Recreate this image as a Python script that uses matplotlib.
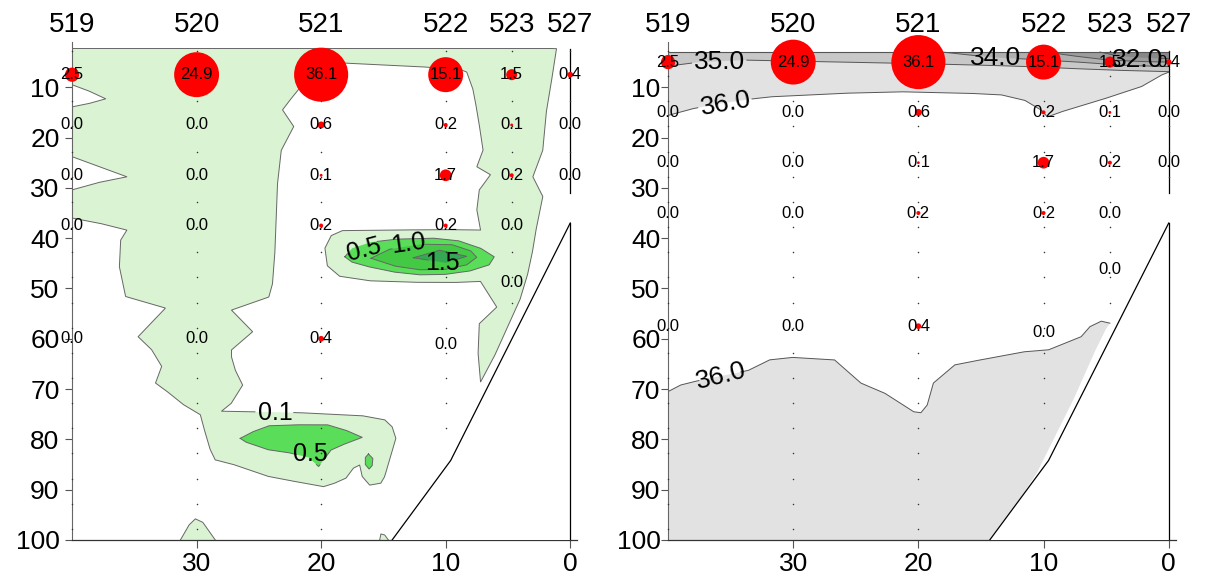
import numpy as np
import matplotlib.pyplot as plt

plt.rcParams['font.family'] = ['Liberation Sans', 'DejaVu Sans']

# stations along the section (distance from the coast, km)
stations = ['519', '520', '521', '522', '523', '527']
station_km = [40, 30, 20, 10, 4.7, 0]
station_bottom = [100, 100, 100, 80, 55, 31]
grid_depth = [2.8, 7.8, 12.8, 17.8, 22.8, 27.8, 32.8, 37.8, 42.8, 47.8,
              52.8, 57.8, 62.8, 67.8, 72.8, 77.8, 82.8, 87.8, 92.8, 97.8]

# bottle depths (m) and cell counts at each station
sample_depth = [
    [7.5, 17.5, 27.5, 37.5, 60.0],
    [7.5, 17.5, 27.5, 37.5, 60.0],
    [7.5, 17.5, 27.5, 37.5, 60.0],
    [7.5, 17.5, 27.5, 37.5, 61.2],
    [7.5, 17.5, 27.5, 37.5, 48.8],
    [7.5, 17.5, 27.5],
]
sample_value = [
    [2.5, 0.0, 0.0, 0.0, 0.0],
    [24.9, 0.0, 0.0, 0.0, 0.0],
    [36.1, 0.6, 0.1, 0.2, 0.4],
    [15.1, 0.2, 1.7, 0.2, 0.0],
    [1.5, 0.1, 0.2, 0.0, 0.0],
    [0.4, 0.0, 0.0],
]

# sea floor
bottom_km = [0, 9.6, 14.3]
bottom_depth = [37, 84.2, 100]

# ---- chlorophyll isolines (left panel) ----
chl01_km = [40, 1.1, 1.4, 1.9, 2.2, 3.0, 2.2, 2.7, 3.0, 3.4, 4.0, 5.0, 6.0, 7.2,
            7.4, 7.3, 5.9, 7.2, 9.0, 12.0, 16.0, 18.5, 19.5, 19.7, 19.2, 18.3,
            15.0, 10.0, 7.2, 7.5, 7.3, 6.4, 7.5, 7.0, 7.2, 7.5, 7.8, 8.3, 8.7,
            11.5, 18.1, 21.0, 22.3, 23.1, 22.2, 23.2, 23.5, 23.7, 23.9, 24.2,
            27.2, 25.5, 27.2, 27.2, 26.9, 26.3, 27.2, 28.0, 21.7, 16.7, 14.9,
            14.3, 14.0, 14.6, 14.9, 15.2, 16.1, 16.7, 16.9, 17.4, 18.0, 18.9,
            19.8, 21.4, 24.2, 26.9, 28.5, 28.9, 29.3, 29.7, 31.0, 32.2, 33.3,
            32.8, 33.6, 34.7, 32.5, 35.7, 36.2, 36.1, 35.6, 37.5, 40]
chl01_depth = [2.3, 2.3, 7.2, 14.5, 22.5, 27.8, 31.7, 37.7, 42.3, 47.0, 52.0, 57.5,
               63.0, 68.6, 63.0, 57.0, 53.7, 48.6, 48.8, 48.8, 48.5, 47.6, 45.5,
               42.0, 39.5, 38.5, 38.4, 38.3, 38.4, 34.4, 30.4, 27.4, 25.8, 22.5,
               19.1, 14.5, 10.5, 7.0, 6.6, 6.0, 5.2, 8.0, 11.9, 14.5, 17.8, 22.5,
               29.0, 42.3, 49.0, 51.7, 54.3, 58.6, 62.2, 63.6, 66.2, 69.2, 72.8,
               74.4, 74.7, 75.3, 76.1, 77.5, 79.8, 84.8, 87.4, 88.7, 89.1, 87.4,
               85.1, 85.7, 87.7, 88.7, 89.4, 88.7, 87.4, 85.1, 84.1, 82.1, 78.8,
               75.1, 73.2, 70.8, 68.8, 65.5, 62.2, 59.6, 53.9, 51.6, 45.7, 40.4,
               38.4, 37.2, 36.0]

notch_a_km = [40, 38.6, 37.3, 38.6, 40]
notch_a_depth = [9.5, 10.8, 12.3, 13.2, 13.9]
notch_b_km = [40, 37.8, 35.6, 37.8, 40]
notch_b_depth = [23.8, 25.8, 27.8, 28.9, 30.4]

blob05_km = [18.1, 17.5, 16.0, 14.0, 11.0, 9.0, 7.2, 6.1, 6.5, 8.0, 10.0, 12.0, 14.0, 16.0, 17.5]
blob05_depth = [43.7, 42.0, 40.8, 40.2, 40.0, 40.5, 42.0, 43.7, 45.3, 46.5, 47.2, 47.3, 46.8, 45.8, 44.8]
blob10_km = [16.0, 14.5, 12.0, 9.5, 8.0, 7.5, 8.3, 10.0, 12.0, 14.0]
blob10_depth = [44.0, 42.2, 41.2, 41.3, 42.5, 43.8, 45.3, 46.2, 46.3, 45.6]
blob15_km = [12.6, 10.5, 8.3, 10.0]
blob15_depth = [43.9, 42.4, 43.6, 44.9]

deep05_km = [26.5, 25.5, 24.2, 22.0, 19.5, 18.0, 16.7, 18.0, 19.2, 20.2, 21.0, 22.5, 24.2, 26.0]
deep05_depth = [79.8, 78.5, 77.3, 77.1, 77.1, 78.2, 79.6, 80.8, 82.1, 85.4, 83.6, 82.7, 82.1, 80.6]
spot05_km = [16.2, 15.85, 15.9, 16.15, 16.45, 16.45]
spot05_depth = [82.9, 83.8, 85.2, 85.9, 85.0, 83.6]
hump_km = [31.3, 30.6, 30.1, 29.5, 28.5]
hump_depth = [100, 97.0, 95.8, 96.5, 100]
loop_km = [15.3, 15.2, 14.9, 14.6]
loop_depth = [100, 98.8, 99.0, 100]

# ---- salinity isolines (right panel) ----
sal_top = 3.0
sal36_km = [40, 38.1, 36.0, 33.2, 31.8, 26.0, 21.4, 16.0, 13.4, 11.5, 10.2, 9.7,
            8.6, 5.4, 2.2, 0.6, 0]
sal36_depth = [15.6, 14.3, 13.3, 12.3, 11.9, 11.2, 10.9, 11.2, 11.5, 12.6, 14.5,
               15.9, 14.9, 12.5, 9.9, 7.6, 7.0]
sal35_km = [40, 37.5, 33.9, 31.8, 28.2, 24.0, 20.0, 15.0, 11.0, 8.5, 4.5, 0]
sal35_depth = [5.8, 5.0, 4.6, 4.7, 4.9, 5.1, 5.3, 5.6, 5.9, 6.2, 6.6, 6.9]
sal34_km = [18.1, 15.5, 13.8, 11.3, 8.5, 6.0, 4.2, 0]
sal34_depth = [3.0, 3.7, 4.1, 4.4, 4.8, 5.2, 5.6, 5.9]
sal33_km = [9.8, 7.5, 4.8, 2.0, 0]
sal33_depth = [3.0, 3.8, 4.6, 4.9, 5.0]
sal32_km = [5.5, 4.2, 2.5, 0]
sal32_depth = [3.0, 3.7, 4.1, 4.3]
deep36_km = [40, 39.0, 37.9, 33.6, 31.9, 30.1, 26.7, 24.6, 22.7, 21.2, 20.4, 19.8,
             19.3, 18.8, 17.1, 15.9, 11.6, 9.6, 7.0, 6.3, 5.4, 4.7]
deep36_depth = [70.5, 69.2, 68.5, 66.3, 64.2, 63.7, 64.2, 68.8, 70.8, 73.2, 74.5,
                74.7, 73.2, 68.8, 65.2, 64.6, 62.6, 62.2, 59.6, 57.6, 56.5, 56.9]
deep_edge_km = [5.0, 5.8, 7.6, 9.4, 10.5, 14.0]
deep_edge_depth = [58.0, 62.0, 72.0, 81.0, 86.5, 100]


def isoline(ax, xs, ds, gap=None, closed=False, color='#666666', lw=0.7):
    xs = list(xs)
    ds = list(ds)
    if closed:
        xs = xs + xs[:1]
        ds = ds + ds[:1]
    xs = np.asarray(xs, float)
    ds = np.asarray(ds, float)
    if gap is not None:
        # break the line where its label sits
        n = len(xs)
        t = np.linspace(0, n - 1, 60 * n)
        xs = np.interp(t, np.arange(n), xs)
        ds = np.interp(t, np.arange(n), ds)
        x0, x1, d0, d1 = gap
        xs[(xs > x0) & (xs < x1) & (ds > d0) & (ds < d1)] = np.nan
    ax.plot(xs, ds, color=color, lw=lw, zorder=2)


def base(ax, shift, top, pad):
    ax.set_xlim(40, -0.55)
    ax.set_ylim(100, 1)
    for s in ['top', 'right']:
        ax.spines[s].set_visible(False)
    ax.spines['left'].set_color('#666666')
    ax.spines['bottom'].set_color('#333333')
    ax.spines['left'].set_linewidth(0.8)
    ax.spines['bottom'].set_linewidth(0.9)
    ax.set_xticks([30, 20, 10, 0])
    ax.set_yticks(range(10, 101, 10))
    ax.tick_params(axis='x', length=6, color='#555555', labelsize=19, pad=3)
    ax.tick_params(axis='y', length=5, color='#555555', labelsize=19, pad=pad)

    # sea floor
    ax.fill(bottom_km + [0], bottom_depth + [100], color='white', zorder=3)
    ax.plot(bottom_km, bottom_depth, color='black', lw=0.9, zorder=3)
    ax.plot([0, 0], [bottom_depth[0], 100], color='black', lw=0.9, zorder=3)
    ax.plot([0, 0], [top, station_bottom[-1]], color='black', lw=0.9, zorder=3)

    for sid, km, bot, dep, val in zip(stations, station_km, station_bottom,
                                      sample_depth, sample_value):
        dots = [g for g in grid_depth if g < bot]
        ax.scatter([km] * len(dots), dots, s=1.2, color='#333333', zorder=4,
                   linewidths=0, clip_on=False)
        dd = [d - shift for d in dep]
        ax.scatter([km] * len(val), dd, s=[42 * v for v in val], color='red',
                   linewidths=0, zorder=5, clip_on=False)
        for d, v in zip(dd, val):
            ax.text(km, d, f'{v:.1f}', ha='center', va='center', fontsize=12,
                    zorder=6)
        ax.annotate(sid, (km, 1), xytext=(0, 3), textcoords='offset points',
                    ha='center', va='bottom', fontsize=20, annotation_clip=False)


fig = plt.figure(figsize=(12.05, 5.79), dpi=100)
ax1 = fig.add_axes([0.0598, 0.0674, 0.4191, 0.8601])
ax2 = fig.add_axes([0.5544, 0.0674, 0.4212, 0.8601])

# left panel: chlorophyll
light_green = '#d9f3d3'
ax1.fill(chl01_km, chl01_depth, color=light_green, lw=0, zorder=1)
isoline(ax1, chl01_km, chl01_depth, gap=(22.2, 25.3, 72, 77.5), closed=True)
for xs, ds in [(notch_a_km, notch_a_depth), (notch_b_km, notch_b_depth)]:
    ax1.fill(xs, ds, color='white', lw=0, zorder=1.5)
    isoline(ax1, xs, ds)
ax1.fill(blob05_km, blob05_depth, color='#5ade5a', lw=0, zorder=1.6)
ax1.fill(blob10_km, blob10_depth, color='#44c944', lw=0, zorder=1.7)
ax1.fill(blob15_km, blob15_depth, color='#34a852', lw=0, zorder=1.8)
ax1.fill(deep05_km, deep05_depth, color='#5ade5a', lw=0, zorder=1.6)
ax1.fill(spot05_km, spot05_depth, color='#5ade5a', lw=0, zorder=1.6)
ax1.fill(hump_km, hump_depth, color=light_green, lw=0, zorder=1.6)
ax1.fill(loop_km, loop_depth, color=light_green, lw=0, zorder=1.6)
isoline(ax1, blob05_km, blob05_depth, gap=(15.5, 17.8, 40.3, 44.2), closed=True)
isoline(ax1, blob10_km, blob10_depth, gap=(11.8, 14.3, 39.5, 42.6), closed=True)
isoline(ax1, blob15_km, blob15_depth, gap=(9.2, 11.4, 43.8, 46.5), closed=True)
isoline(ax1, deep05_km, deep05_depth, gap=(19.8, 22.0, 81.0, 85.0), closed=True)
isoline(ax1, spot05_km, spot05_depth, closed=True)
isoline(ax1, hump_km, hump_depth)
isoline(ax1, loop_km, loop_depth)

for txt, x, d, rot in [('0.5', 16.6, 42.3, 15), ('1.0', 13.0, 41.0, 8),
                       ('1.5', 10.3, 44.9, 0), ('0.1', 23.7, 74.8, 0),
                       ('0.5', 20.9, 82.9, 0)]:
    ax1.text(x, d, txt, ha='center', va='center', fontsize=18, rotation=rot,
             zorder=7)
base(ax1, 0.0, 2.3, 4)

# right panel: salinity
ax2.fill([40, 0] + sal36_km[::-1], [sal_top, sal_top] + sal36_depth[::-1],
         color='#e2e2e2', lw=0, zorder=1)
ax2.fill([40, 0] + sal35_km[::-1], [sal_top, sal_top] + sal35_depth[::-1],
         color='#c8c8c8', lw=0, zorder=1.1)
ax2.fill([0] + sal34_km[::-1], [sal_top] + sal34_depth[::-1],
         color='#b0b0b0', lw=0, zorder=1.2)
ax2.fill([0] + sal33_km[::-1], [sal_top] + sal33_depth[::-1],
         color='#9c9c9c', lw=0, zorder=1.3)
ax2.fill([0] + sal32_km[::-1], [sal_top] + sal32_depth[::-1],
         color='#888888', lw=0, zorder=1.4)
ax2.fill(deep36_km + deep_edge_km + [40], deep36_depth + deep_edge_depth + [100],
         color='#e2e2e2', lw=0, zorder=1)
ax2.plot([40, 0], [sal_top, sal_top], color='#555555', lw=0.8, zorder=2)
isoline(ax2, sal36_km, sal36_depth, gap=(33.3, 37.6, 0, 30), color='#555555')
isoline(ax2, sal35_km, sal35_depth, gap=(33.7, 38.1, 0, 30), color='#555555')
isoline(ax2, sal34_km, sal34_depth, gap=(12.1, 15.5, 0, 30), color='#555555')
isoline(ax2, sal33_km, sal33_depth, color='#555555')
isoline(ax2, sal32_km, sal32_depth, gap=(0.8, 4.1, 0, 30), color='#555555')
isoline(ax2, deep36_km, deep36_depth, gap=(34.2, 37.5, 60, 75), color='#555555')

for txt, x, d, rot in [('35.0', 35.9, 4.9, 0), ('34.0', 13.8, 4.2, 0),
                       ('32.0', 2.45, 4.5, 0), ('36.0', 35.4, 13.3, 10),
                       ('36.0', 35.8, 67.4, 14)]:
    ax2.text(x, d, txt, ha='center', va='center', fontsize=19, rotation=rot,
             zorder=7)
base(ax2, 2.5, sal_top, 0.5)

fig.savefig('out.png', dpi=100)
